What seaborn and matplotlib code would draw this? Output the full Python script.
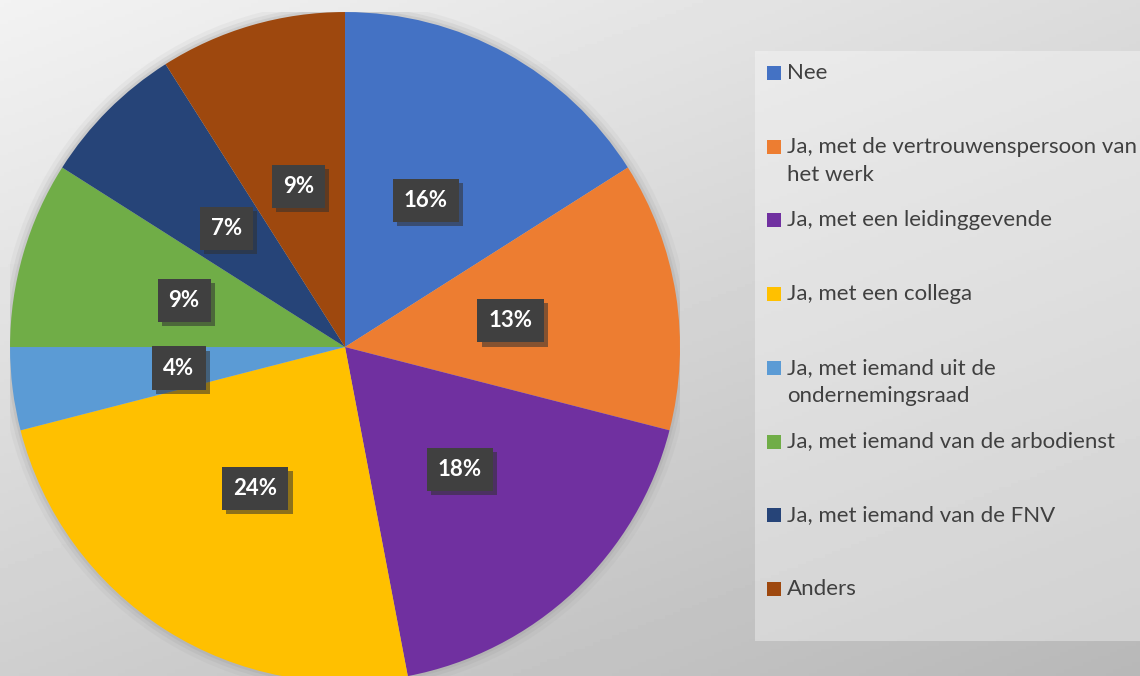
import matplotlib.pyplot as plt
import matplotlib.patheffects as pe
from matplotlib.patches import Rectangle, Circle
import seaborn as sns
import numpy as np

# Antwoorden en aandelen (in procenten)
categories = ["Nee",
              "Ja, met de vertrouwenspersoon van\nhet werk",
              "Ja, met een leidinggevende",
              "Ja, met een collega",
              "Ja, met iemand uit de\nondernemingsraad",
              "Ja, met iemand van de arbodienst",
              "Ja, met iemand van de FNV",
              "Anders"]
shares = [16, 13, 18, 24, 4, 9, 7, 9]
colors = ["#4472C4", "#ED7D31", "#7030A0", "#FFC000",
          "#5B9BD5", "#70AD47", "#264478", "#9E480E"]

sns.set_theme(style="white")
plt.rcParams['font.family'] = ['Lato', 'DejaVu Sans']

fig = plt.figure(figsize=(11.4, 6.76), dpi=100)

# achtergrond met verloop
bg = fig.add_axes([0, 0, 1, 1])
yy, xx = np.mgrid[0:1:200j, 0:1:300j]
grad = 0.95 - 0.14 * yy - 0.09 * xx
bg.imshow(grad, cmap="gray", vmin=0, vmax=1, extent=[0, 1, 0, 1],
          aspect="auto", origin="upper")
bg.add_patch(Rectangle((755 / 1140, 1 - 641 / 676), 1, 590 / 676,
                       facecolor="white", alpha=0.35, edgecolor="none"))
bg.set_xlim(0, 1)
bg.set_ylim(0, 1)
bg.axis("off")

# taartdiagram
ax = fig.add_axes([0.0088, -0.0089, 0.5877, 0.9911])
for r, a in [(1.03, 0.08), (1.018, 0.12), (1.008, 0.16)]:
    ax.add_patch(Circle((0.0, 0.0), r, facecolor="#8c8c8c", alpha=a,
                        edgecolor="none"))
wedges, texts, autotexts = ax.pie(
    shares, colors=colors, startangle=90, counterclock=False,
    autopct="%1.0f%%", pctdistance=0.5, radius=1,
    wedgeprops=dict(linewidth=0),
    textprops=dict(color="white", fontsize=16, fontweight="bold"))
for t in autotexts:
    t.set_bbox(dict(boxstyle="square,pad=0.5", facecolor="#404040",
                    edgecolor="none",
                    path_effects=[pe.SimplePatchShadow(offset=(3, -3),
                                                       shadow_rgbFace="#303030",
                                                       alpha=0.55),
                                  pe.Normal()]))
ax.set_xlim(-1, 1)
ax.set_ylim(-1, 1)
ax.set_aspect("equal")
ax.axis("off")

# legenda
for i, (lab, col) in enumerate(zip(categories, colors)):
    ypix = 73 + i * 73.7
    fig.patches.append(Rectangle((767 / 1140, 1 - (ypix + 7) / 676),
                                 14 / 1140, 14 / 676, facecolor=col,
                                 edgecolor="none", transform=fig.transFigure,
                                 figure=fig))
    fig.text(787 / 1140, 1 - (ypix - 10) / 676, lab, fontsize=16,
             color="#404040", va="top", ha="left", linespacing=1.5)

fig.savefig("out.png", dpi=100)
